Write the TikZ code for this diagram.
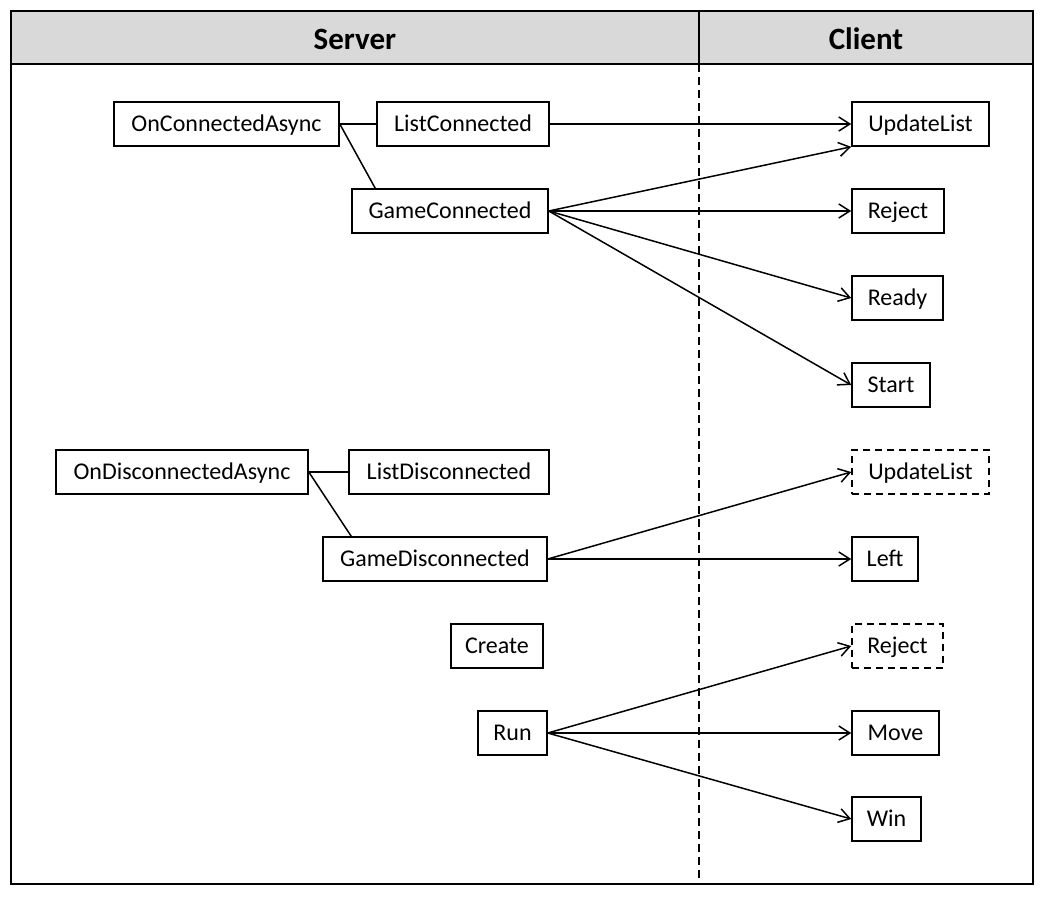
\documentclass[tikz,border=0pt]{standalone}
\usepackage{fontspec}
\setmainfont{Carlito}
\usetikzlibrary{arrows.meta,calc}
\definecolor{headgray}{HTML}{D9D9D9}
\begin{document}
\begin{tikzpicture}[x=1pt,y=-1pt,
  box/.style={draw, line width=1.6pt, minimum height=44pt, inner sep=0pt,
    text height=17pt, text depth=2pt, font=\fontsize{24}{28}\selectfont},
  dbox/.style={box, dash pattern=on 7pt off 5pt},
  link/.style={line width=1.5pt},
  msg/.style={line width=1.5pt, -{Straight Barb[length=11pt,width=14pt,line width=1.5pt]}},
  head/.style={font=\fontsize{31}{36}\selectfont\bfseries}]
  \useasboundingbox[fill=white] (0,0) rectangle (1044,897);

  % frame and header
  \draw[line width=2pt, fill=headgray] (11,11) rectangle (1033,64);
  \draw[line width=2pt] (11,64) rectangle (1033,884);
  \draw[line width=2pt] (699,11) -- (699,64);
  \draw[line width=1.5pt, dash pattern=on 8pt off 5pt] (699,64) -- (699,884);
  \node[head] (server) at (355,39) {Server};
  \node[head] (client) at (866,39) {Client};

  % server side
  \node[box, minimum width=225pt] (oca) at (226.5,124) {OnConnectedAsync};
  \node[box, minimum width=172pt] (lc) at (463,124) {ListConnected};
  \node[box, minimum width=196pt] (gc) at (450,211) {GameConnected};
  \node[box, minimum width=252pt] (oda) at (182,472) {OnDisconnectedAsync};
  \node[box, minimum width=200pt] (ld) at (449,472) {ListDisconnected};
  \node[box, minimum width=224pt] (gd) at (435,559) {GameDisconnected};
  \node[box, minimum width=92pt] (create) at (497,646) {Create};
  \node[box, minimum width=69pt] (run) at (512.5,733) {Run};

  % client side
  \node[box, minimum width=137pt] (ul1) at (920.5,124) {UpdateList};
  \node[box, minimum width=92pt] (rej1) at (898,211) {Reject};
  \node[box, minimum width=91pt] (ready) at (897.5,298) {Ready};
  \node[box, minimum width=78pt] (start) at (891,385) {Start};
  \node[dbox, minimum width=137pt] (ul2) at (920.5,472) {UpdateList};
  \node[box, minimum width=66pt] (left) at (885,559) {Left};
  \node[dbox, minimum width=91pt] (rej2) at (897.5,646) {Reject};
  \node[box, minimum width=87pt] (move) at (895.5,733) {Move};
  \node[box, minimum width=69pt] (win) at (886.5,819) {Win};

  % server-side links
  \coordinate (gctop) at ($(gc.north west)+(24,0)$);
  \coordinate (gdtop) at ($(gd.north west)+(29,0)$);
  \draw[link] (oca.east) -- (lc.west);
  \draw[link] (oca.east) -- (gctop);
  \draw[link] (oda.east) -- (ld.west);
  \draw[link] (oda.east) -- (gdtop);

  % messages to the client
  \draw[msg] (lc.east) -- (ul1.west);
  \draw[msg] (gc.east) -- (ul1.south west);
  \draw[msg] (gc.east) -- (rej1.west);
  \draw[msg] (gc.east) -- (ready.west);
  \draw[msg] (gc.east) -- (start.west);
  \draw[msg] (gd.east) -- (ul2.west);
  \draw[msg] (gd.east) -- (left.west);
  \draw[msg] (run.east) -- (rej2.west);
  \draw[msg] (run.east) -- (move.west);
  \draw[msg] (run.east) -- (win.west);
\end{tikzpicture}
\end{document}
